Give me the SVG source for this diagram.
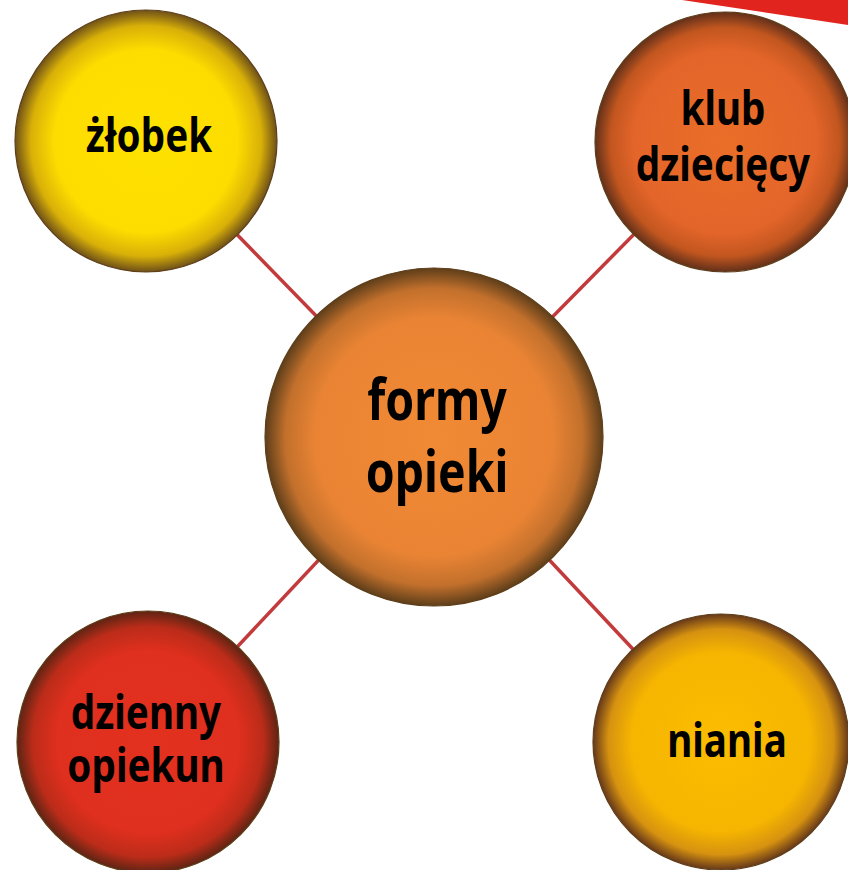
<svg xmlns="http://www.w3.org/2000/svg" width="848" height="870" viewBox="0 0 848 870">
<style>
.lbl{font-family:"Noto Sans","Open Sans","DejaVu Sans",sans-serif;font-weight:bold;fill:#000;text-anchor:middle}
.sm{font-size:46px}
.big{font-size:58px}
.edge{stroke:#c23a3c;stroke-width:3.5;fill:none}
.rim{stroke:#5e3f1a;stroke-width:1.2}
</style>
<defs>
<radialGradient id="gY"><stop offset="0" stop-color="#ffe200"/><stop offset="0.7" stop-color="#fddc00"/><stop offset="0.88" stop-color="#d8b008"/><stop offset="1" stop-color="#6e5018"/></radialGradient>
<radialGradient id="gK"><stop offset="0" stop-color="#ea6e28"/><stop offset="0.7" stop-color="#e4652a"/><stop offset="0.88" stop-color="#c2561f"/><stop offset="1" stop-color="#62301a"/></radialGradient>
<radialGradient id="gC"><stop offset="0" stop-color="#f08a34"/><stop offset="0.7" stop-color="#ea8434"/><stop offset="0.88" stop-color="#c2702c"/><stop offset="1" stop-color="#5e3e1a"/></radialGradient>
<radialGradient id="gR"><stop offset="0" stop-color="#e3311f"/><stop offset="0.7" stop-color="#df2f1e"/><stop offset="0.88" stop-color="#bb2c19"/><stop offset="1" stop-color="#5e2414"/></radialGradient>
<radialGradient id="gN"><stop offset="0" stop-color="#fbbd00"/><stop offset="0.7" stop-color="#f6b500"/><stop offset="0.88" stop-color="#d69210"/><stop offset="1" stop-color="#66381a"/></radialGradient>
</defs>
<rect width="848" height="870" fill="#fff"/>
<polygon points="682,0 848,0 848,25" fill="#e1251e"/>
<g id="connectors">
<line class="edge" x1="146" y1="141" x2="434" y2="437"/>
<line class="edge" x1="725" y1="142" x2="434" y2="437"/>
<line class="edge" x1="148" y1="742" x2="434" y2="437"/>
<line class="edge" x1="720" y1="742" x2="434" y2="437"/>
</g>
<g id="zlobek">
<circle class="rim" cx="146" cy="141" r="131" fill="url(#gY)"/>
<text class="lbl sm" transform="translate(149,152) scale(0.84,1)">żłobek</text>
</g>
<g id="klub">
<circle class="rim" cx="725" cy="142" r="130" fill="url(#gK)"/>
<text class="lbl sm" transform="translate(723,125) scale(0.84,1)">klub</text>
<text class="lbl sm" transform="translate(723,181) scale(0.84,1)">dziecięcy</text>
</g>
<g id="formy">
<circle class="rim" cx="434" cy="437" r="169" fill="url(#gC)"/>
<text class="lbl big" transform="translate(437,420) scale(0.8,1)">formy</text>
<text class="lbl big" transform="translate(437,492) scale(0.8,1)">opieki</text>
</g>
<g id="dzienny">
<circle class="rim" cx="148" cy="742" r="131" fill="url(#gR)"/>
<text class="lbl sm" transform="translate(146,729) scale(0.84,1)">dzienny</text>
<text class="lbl sm" transform="translate(146,782) scale(0.84,1)">opiekun</text>
</g>
<g id="niania">
<circle class="rim" cx="721" cy="742" r="128" fill="url(#gN)"/>
<text class="lbl sm" transform="translate(727,757) scale(0.84,1)">niania</text>
</g>
</svg>
